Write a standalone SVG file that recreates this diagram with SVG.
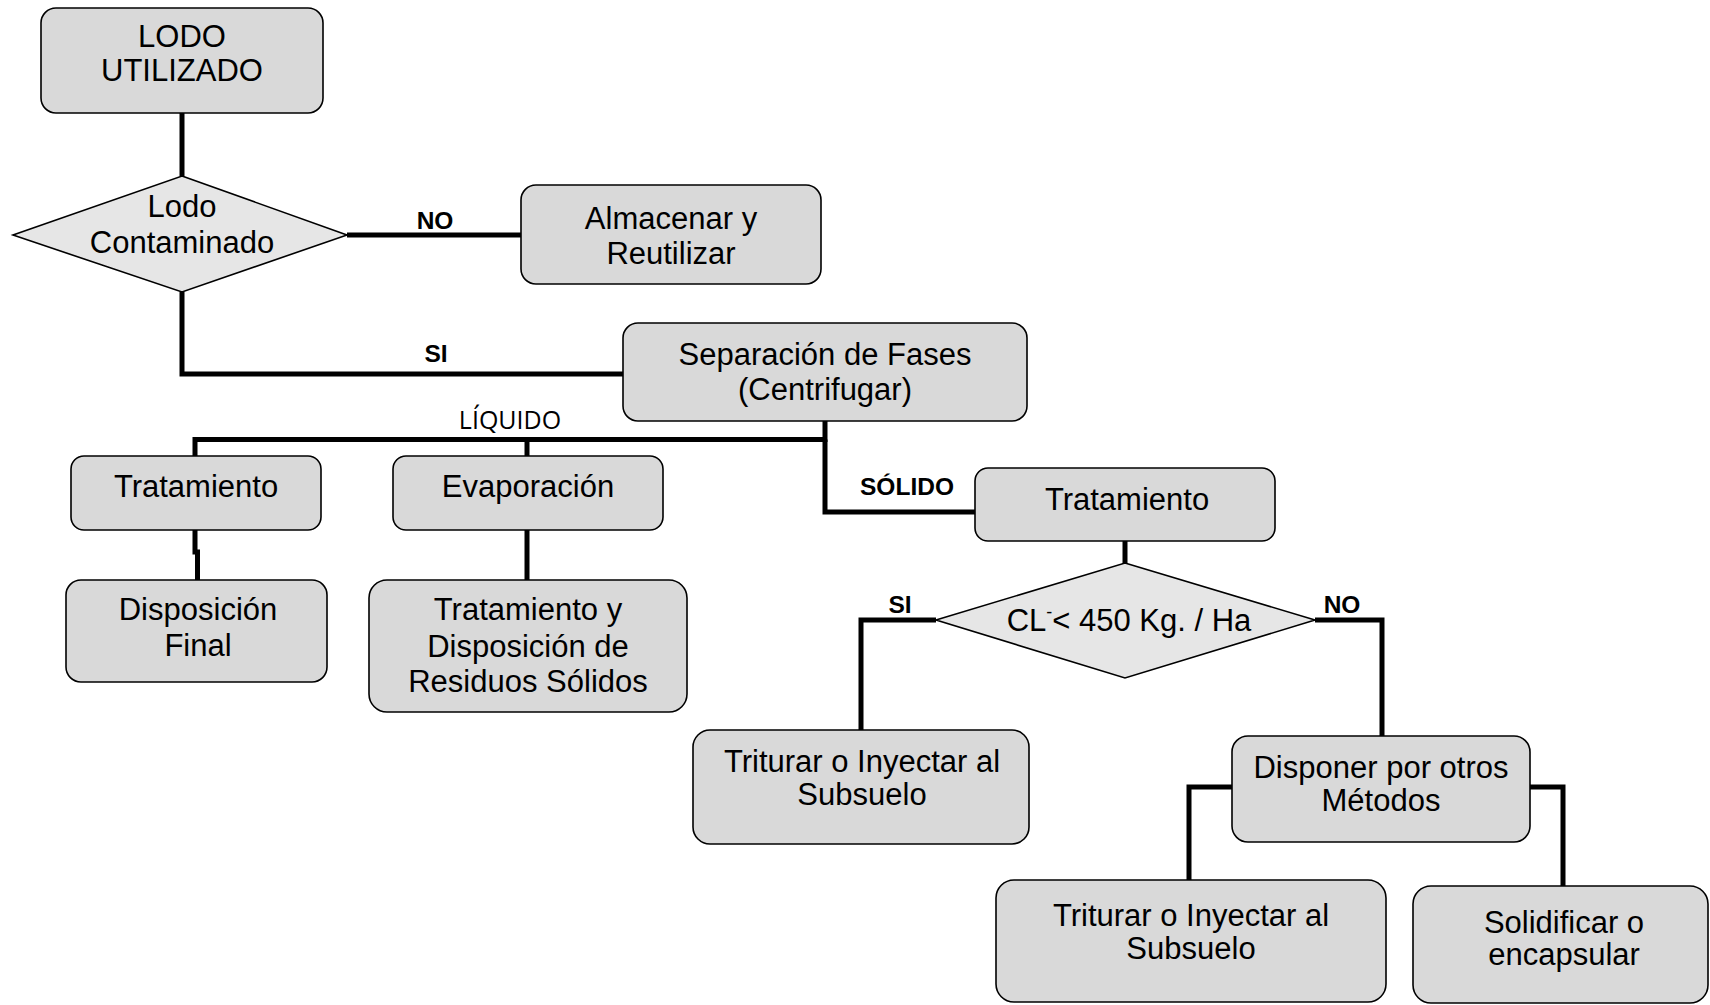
<svg xmlns="http://www.w3.org/2000/svg" width="1710" height="1005" viewBox="0 0 1710 1005">
<style>
.box{fill:#d9d9d9;stroke:#000;stroke-width:1.6}
.dia{fill:#e6e6e6;stroke:#000;stroke-width:1.6}
.t{font-family:"Liberation Sans",Arial,sans-serif;font-size:31px;fill:#000;text-anchor:middle}
.lb{font-family:"Liberation Sans",Arial,sans-serif;font-size:24.5px;font-weight:bold;fill:#000;text-anchor:middle}
.lq{font-family:"Open Sans","DejaVu Sans",sans-serif;font-size:25px;fill:#000;text-anchor:middle}
.c{fill:none;stroke:#000;stroke-width:5;stroke-linejoin:miter}
</style>
<rect width="1710" height="1005" fill="#fff"/>
<g id="connectors">
<path class="c" d="M182,113 V176"/>
<path class="c" d="M347,235 H521"/>
<path class="c" d="M182,292 V374 H623"/>
<path class="c" d="M825,421 V439.5 H195 V456"/>
<path class="c" d="M527,439.5 V456"/>
<path class="c" d="M825,439.5 V512 H975"/>
<path class="c" d="M195,529 V552 H197.5 V580"/>
<path class="c" d="M527,529 V580"/>
<path class="c" d="M1125,541 V563"/>
<path class="c" d="M936,620 H861 V730"/>
<path class="c" d="M1315,620 H1382 V736"/>
<path class="c" d="M1232,787 H1189 V880"/>
<path class="c" d="M1529,787 H1563 V886"/>
<text class="lb" x="435" y="229">NO</text>
<text class="lb" x="436" y="362">SI</text>
<text class="lq" x="510" y="429">LÍQUIDO</text>
<text class="lb" x="907" y="495">SÓLIDO</text>
<text class="lb" x="900" y="613">SI</text>
<text class="lb" x="1342" y="613">NO</text>
</g>
<g id="n-lodo-utilizado">
<rect class="box" x="41" y="8" width="282" height="105" rx="15"/>
<text class="t" x="182" y="47">LODO</text>
<text class="t" x="182" y="81">UTILIZADO</text>
</g>
<g id="n-lodo-contaminado">
<polygon class="dia" points="182,176 347,235 182,292 13,235"/>
<text class="t" x="182" y="217">Lodo</text>
<text class="t" x="182" y="253">Contaminado</text>
</g>
<g id="n-almacenar">
<rect class="box" x="521" y="185" width="300" height="99" rx="15"/>
<text class="t" x="671" y="229">Almacenar y</text>
<text class="t" x="671" y="264">Reutilizar</text>
</g>
<g id="n-separacion">
<rect class="box" x="623" y="323" width="404" height="98" rx="15"/>
<text class="t" x="825" y="365">Separación de Fases</text>
<text class="t" x="825" y="400">(Centrifugar)</text>
</g>
<g id="n-tratamiento-liq">
<rect class="box" x="71" y="456" width="250" height="74" rx="13"/>
<text class="t" x="196" y="497">Tratamiento</text>
</g>
<g id="n-evaporacion">
<rect class="box" x="393" y="456" width="270" height="74" rx="13"/>
<text class="t" x="528" y="497">Evaporación</text>
</g>
<g id="n-disposicion-final">
<rect class="box" x="66" y="580" width="261" height="102" rx="15"/>
<text class="t" x="198" y="620">Disposición</text>
<text class="t" x="198" y="656">Final</text>
</g>
<g id="n-tratamiento-residuos">
<rect class="box" x="369" y="580" width="318" height="132" rx="18"/>
<text class="t" x="528" y="620">Tratamiento y</text>
<text class="t" x="528" y="657">Disposición de</text>
<text class="t" x="528" y="692">Residuos Sólidos</text>
</g>
<g id="n-tratamiento-sol">
<rect class="box" x="975" y="468" width="300" height="73" rx="13"/>
<text class="t" x="1127" y="510">Tratamiento</text>
</g>
<g id="n-cl">
<polygon class="dia" points="1125,563 1315,620 1125,678 936,620"/>
<text class="t" x="1129" y="631">CL<tspan font-size="18" dy="-13">-</tspan><tspan dy="13">&lt; 450 Kg. / Ha</tspan></text>
</g>
<g id="n-triturar-1">
<rect class="box" x="693" y="730" width="336" height="114" rx="17"/>
<text class="t" x="862" y="772">Triturar o Inyectar al</text>
<text class="t" x="862" y="805">Subsuelo</text>
</g>
<g id="n-disponer">
<rect class="box" x="1232" y="736" width="298" height="106" rx="16"/>
<text class="t" x="1381" y="778">Disponer por otros</text>
<text class="t" x="1381" y="811">Métodos</text>
</g>
<g id="n-triturar-2">
<rect class="box" x="996" y="880" width="390" height="122" rx="18"/>
<text class="t" x="1191" y="926">Triturar o Inyectar al</text>
<text class="t" x="1191" y="959">Subsuelo</text>
</g>
<g id="n-solidificar">
<rect class="box" x="1413" y="886" width="295" height="117" rx="18"/>
<text class="t" x="1564" y="933">Solidificar o</text>
<text class="t" x="1564" y="965">encapsular</text>
</g>
</svg>
